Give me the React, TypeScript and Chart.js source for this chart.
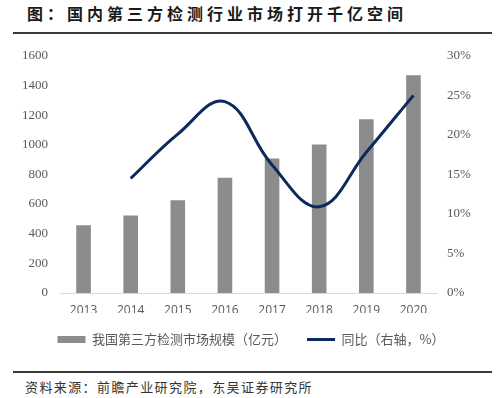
import React, { useEffect, useRef } from "react";
import { Chart, registerables } from "chart.js";

Chart.register(...registerables);

const years = ["2013", "2014", "2015", "2016", "2017", "2018", "2019", "2020"];
const marketSize = [457, 522, 625, 778, 907, 1002, 1172, 1468];
const yoyGrowth = [null, 14.5, 20.1, 24.2, 16.2, 10.9, 17.8, 25.0];
const leftMax = 1600;
const leftStep = 200;
const rightMax = 30;
const rightStep = 5;

const titleText = "图：国内第三方检测行业市场打开千亿空间";
const sourceText = "资料来源：前瞻产业研究院，东吴证券研究所";
const barLabel = "我国第三方检测市场规模（亿元）";
const lineLabel = "同比（右轴，%）";

const BAR_COLOR = "#8c8c8c";
const LINE_COLOR = "#0d2a5e";
const TEXT_COLOR = "#595959";

export default function App() {
  const canvasRef = useRef<HTMLCanvasElement | null>(null);

  useEffect(() => {
    const canvas = canvasRef.current;
    if (!canvas) return;
    const chart = new Chart(canvas, {
      type: "bar",
      data: {
        labels: years,
        datasets: [
          {
            type: "bar",
            label: barLabel,
            data: marketSize,
            backgroundColor: BAR_COLOR,
            borderWidth: 0,
            yAxisID: "y",
            categoryPercentage: 1,
            barPercentage: 0.31,
            order: 2,
          },
          {
            type: "line",
            label: lineLabel,
            data: yoyGrowth as any,
            borderColor: LINE_COLOR,
            backgroundColor: LINE_COLOR,
            borderWidth: 3,
            pointRadius: 0,
            tension: 0.4,
            yAxisID: "y1",
            order: 1,
          },
        ],
      },
      options: {
        responsive: false,
        animation: false,
        devicePixelRatio: 1,
        layout: { padding: { top: 10, left: 0, right: 0, bottom: 0 } },
        plugins: {
          tooltip: { enabled: false },
          legend: {
            position: "bottom",
            labels: {
              usePointStyle: true,
              pointStyleWidth: 28,
              boxHeight: 7,
              padding: 20,
              color: TEXT_COLOR,
              font: { family: "'Noto Sans CJK SC'", size: 13 },
              sort: (a: any, b: any) => a.datasetIndex - b.datasetIndex,
              generateLabels: (c: any) => {
                const items = (Chart.defaults.plugins.legend.labels as any).generateLabels(c);
                items.forEach((it: any) => {
                  if (it.datasetIndex === 0) {
                    it.pointStyle = "rect";
                    it.lineWidth = 0;
                    it.fillStyle = BAR_COLOR;
                  } else {
                    it.pointStyle = "line";
                    it.lineWidth = 3;
                    it.strokeStyle = LINE_COLOR;
                  }
                });
                return items;
              },
            },
          },
        },
        scales: {
          x: {
            grid: { display: false, drawTicks: false },
            border: { display: true, color: "#d9d9d9", width: 1 },
            ticks: {
              color: TEXT_COLOR,
              padding: 10,
              font: { family: "'Open Sans'", size: 12 },
            },
            afterFit: (s: any) => {
              s.height = 20;
            },
          },
          y: {
            position: "left",
            min: 0,
            max: leftMax,
            grid: { display: false, drawTicks: false },
            border: { display: false },
            ticks: {
              stepSize: leftStep,
              color: TEXT_COLOR,
              padding: 12,
              font: { family: "'Liberation Serif'", size: 13 },
              callback: (v: any) => `${v}`,
            },
            afterFit: (s: any) => {
              s.width = 60;
            },
          },
          y1: {
            position: "right",
            min: 0,
            max: rightMax,
            grid: { display: false, drawTicks: false },
            border: { display: false },
            ticks: {
              stepSize: rightStep,
              color: TEXT_COLOR,
              padding: 10,
              font: { family: "'Liberation Serif'", size: 13 },
              callback: (v: any) => `${v}%`,
            },
            afterFit: (s: any) => {
              s.width = 65;
            },
          },
        },
      },
    });
    return () => chart.destroy();
  }, []);

  return (
    <div style={{ position: "absolute", left: 0, top: 0, width: 502, height: 398, background: "#fff" }}>
      <div
        style={{
          position: "absolute",
          left: 27,
          top: 3,
          fontFamily: "'Noto Sans CJK SC'",
          fontWeight: "bold",
          fontSize: 16,
          lineHeight: "20px",
          letterSpacing: 4,
          color: "#1a1a1a",
          whiteSpace: "nowrap",
        }}
      >
        {titleText}
      </div>
      <div style={{ position: "absolute", left: 13, top: 32, width: 479, height: 2, background: "#3a3a3a" }} />
      <div style={{ position: "absolute", left: 0, top: 36, width: 502, height: 320 }}>
        <canvas ref={canvasRef} width={502} height={320} style={{ display: "block" }} />
      </div>
      <div style={{ position: "absolute", left: 13, top: 371, width: 479, height: 1.5, background: "#3a3a3a" }} />
      <div
        style={{
          position: "absolute",
          left: 25,
          top: 378,
          fontFamily: "'Noto Sans CJK SC'",
          fontSize: 13,
          lineHeight: "18px",
          letterSpacing: 1.4,
          color: "#333",
          whiteSpace: "nowrap",
        }}
      >
        {sourceText}
      </div>
    </div>
  );
}
